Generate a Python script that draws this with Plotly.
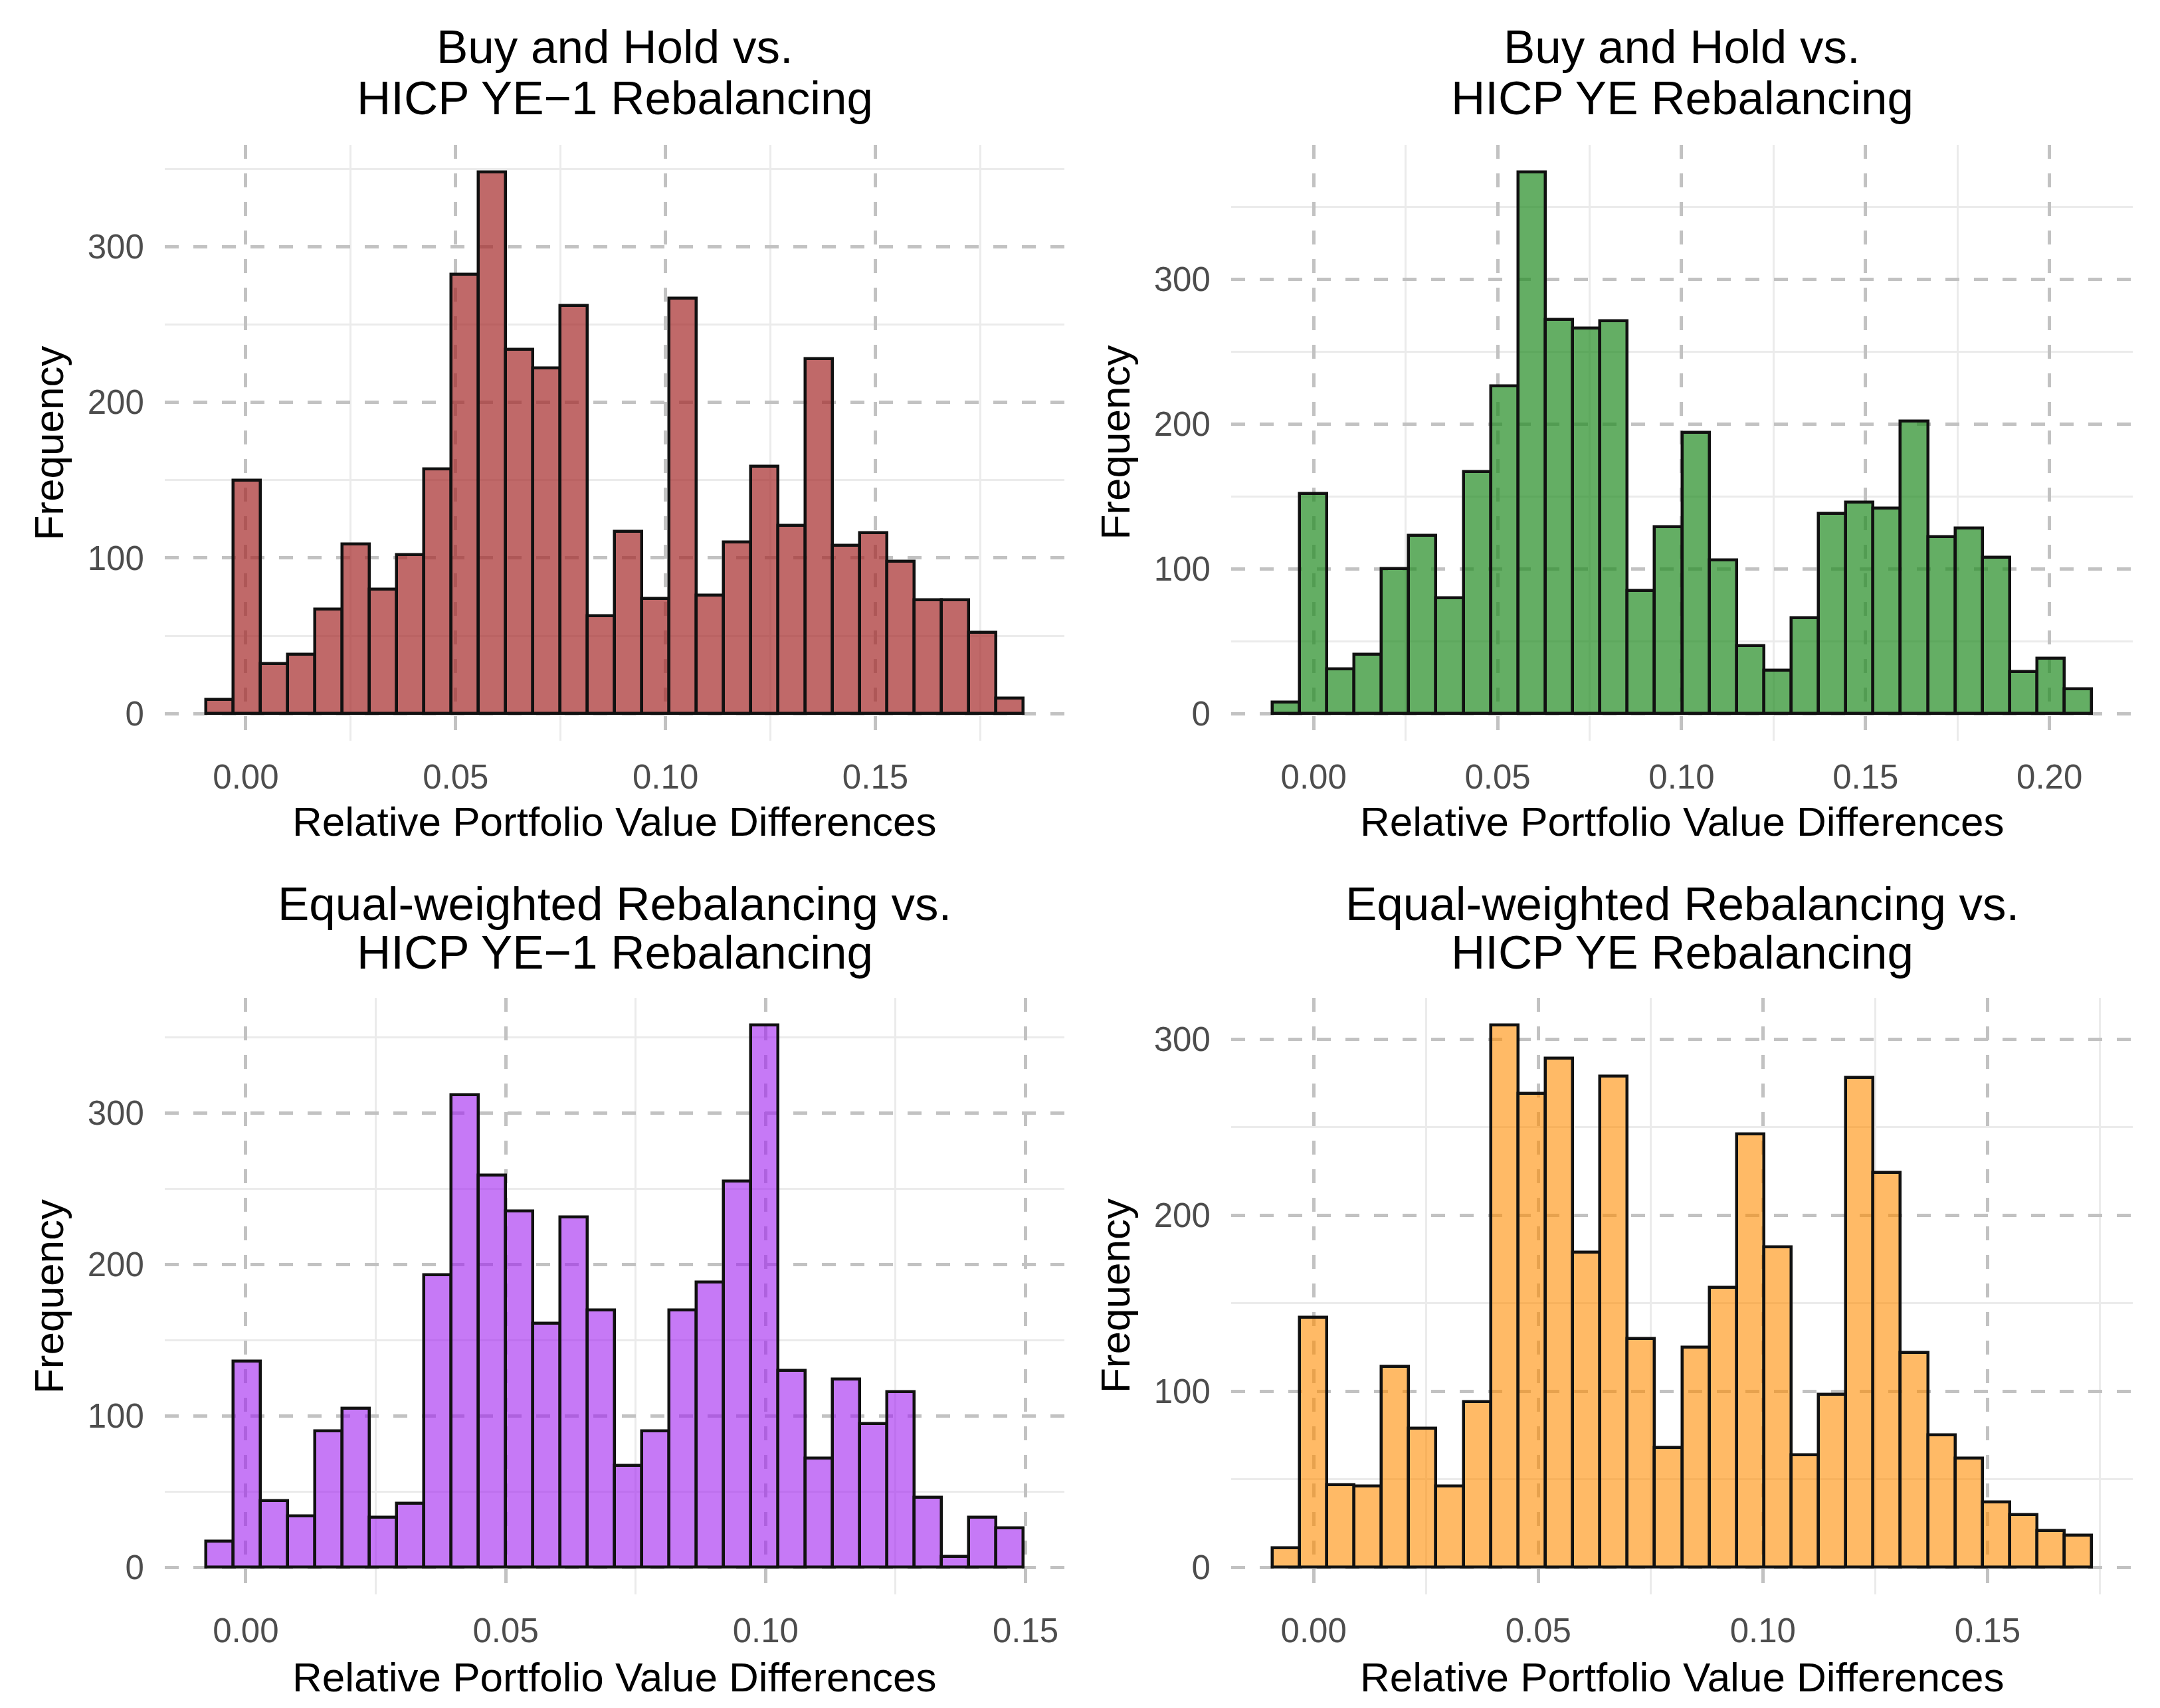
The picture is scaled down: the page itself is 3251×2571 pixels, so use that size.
import plotly.graph_objects as go

# ---------------- data ----------------
titles = [
    ["Buy and Hold vs.", "HICP YE\u22121 Rebalancing"],
    ["Buy and Hold vs.", "HICP YE Rebalancing"],
    ["Equal-weighted Rebalancing vs.", "HICP YE\u22121 Rebalancing"],
    ["Equal-weighted Rebalancing vs.", "HICP YE Rebalancing"],
]
x_title = "Relative Portfolio Value Differences"
y_title = "Frequency"

# bin edges (first left edge, last right edge) for each panel, 30 bins each
edges_bh_ye1 = [-0.00956, 0.1853]
edges_bh_ye = [-0.01128, 0.2115]
edges_ew_ye1 = [-0.00771, 0.1496]
edges_ew_ye = [-0.00924, 0.1732]

counts_bh_ye1 = [9, 150, 32, 38, 67, 109, 80, 102, 157, 282, 348, 234, 222, 262, 63,
                 117, 74, 267, 76, 110, 159, 121, 228, 108, 116, 98, 73, 73, 52, 10]
counts_bh_ye = [8, 152, 31, 41, 100, 123, 80, 167, 226, 374, 272, 266, 271, 85, 129,
                194, 106, 47, 30, 66, 138, 146, 142, 202, 122, 128, 108, 29, 38, 17]
counts_ew_ye1 = [17, 136, 44, 34, 90, 105, 33, 42, 193, 312, 259, 235, 161, 231, 170,
                 67, 90, 170, 188, 255, 358, 130, 72, 124, 95, 116, 46, 7, 33, 26]
counts_ew_ye = [11, 142, 47, 46, 114, 79, 46, 94, 308, 269, 289, 179, 279, 130, 68,
                125, 159, 246, 182, 64, 98, 278, 224, 122, 75, 62, 37, 30, 21, 18]

x_ticks = [[0.0, 0.05, 0.10, 0.15],
           [0.0, 0.05, 0.10, 0.15, 0.20],
           [0.0, 0.05, 0.10, 0.15],
           [0.0, 0.05, 0.10, 0.15]]
y_ticks = [0, 100, 200, 300]

fills = ["rgba(165,42,42,0.7)", "rgba(34,139,34,0.7)",
         "rgba(160,32,240,0.6)", "rgba(255,140,0,0.6)"]

panels = [
    (edges_bh_ye1, counts_bh_ye1),
    (edges_bh_ye, counts_bh_ye),
    (edges_ew_ye1, counts_ew_ye1),
    (edges_ew_ye, counts_ew_ye),
]

# ---------------- layout ----------------
W, H = 3251, 2571
x_domains = [[240 / W, 1594 / W], [1845 / W, 3202 / W]]
y_px = [[210, 1107], [1494, 2392]]  # top, bottom in pixels
y_domains = [[1 - b / H, 1 - t / H] for t, b in y_px]
title_px = [[63, 140], [1352, 1425]]
xtitle_px = [1228, 2516]

FONT = "Liberation Sans, Arial, Helvetica, sans-serif"
fig = go.Figure()
annotations = []

for i, ((lo, hi), counts) in enumerate(panels):
    n = len(counts)
    w = (hi - lo) / n
    centers = [lo + w * (k + 0.5) for k in range(n)]
    ax = "" if i == 0 else str(i + 1)
    fig.add_trace(go.Bar(
        x=centers, y=counts, width=w,
        marker=dict(color=fills[i], line=dict(color="#111111", width=4.5)),
        xaxis="x" + ax, yaxis="y" + ax, showlegend=False,
    ))
    col, row = i % 2, i // 2
    xpad = 0.05 * (hi - lo)
    ymax = max(counts)
    common_grid = dict(
        showgrid=True, gridcolor="#C2C2C2", gridwidth=4.5, griddash="21px,22px",
        zeroline=False, showline=False,
        ticks="outside", tickcolor="rgba(0,0,0,0)",
        tickfont=dict(family=FONT, size=51, color="#4D4D4D"),
    )
    minor = dict(showgrid=True, gridcolor="#EBEBEB", gridwidth=2.5, griddash="solid")
    fig.update_layout(**{
        "xaxis" + ax: dict(
            domain=x_domains[col], anchor="y" + ax,
            range=[lo - xpad, hi + xpad],
            tickvals=x_ticks[i], ticktext=[f"{v:.2f}" for v in x_ticks[i]],
            ticklen=10,
            minor=dict(tickvals=[v + 0.025 for v in x_ticks[i]], **minor),
            **common_grid,
        ),
        "yaxis" + ax: dict(
            domain=y_domains[row], anchor="x" + ax,
            range=[-0.05 * ymax, 1.05 * ymax],
            tickvals=y_ticks, ticktext=[str(v) for v in y_ticks],
            ticklen=20,
            minor=dict(tickvals=[50, 150, 250, 350], **minor),
            **common_grid,
        ),
    })
    xc = sum(x_domains[col]) / 2
    for line, ypix in zip(titles[i], title_px[row]):
        annotations.append(dict(
            text=line, x=xc, y=1 - ypix / H, xref="paper", yref="paper",
            xanchor="center", yanchor="middle", showarrow=False,
            font=dict(family=FONT, size=71, color="#000000"),
        ))
    annotations.append(dict(
        text=x_title, x=xc, y=1 - xtitle_px[row] / H, xref="paper", yref="paper",
        xanchor="center", yanchor="middle", showarrow=False,
        font=dict(family=FONT, size=62, color="#000000"),
    ))
    annotations.append(dict(
        text=y_title, x=x_domains[col][0] - 175 / W, y=sum(y_domains[row]) / 2,
        xref="paper", yref="paper", xanchor="center", yanchor="middle",
        showarrow=False, textangle=-90,
        font=dict(family=FONT, size=62, color="#000000"),
    ))

fig.update_layout(
    width=W, height=H, margin=dict(l=0, r=0, t=0, b=0),
    paper_bgcolor="white", plot_bgcolor="white",
    bargap=0, annotations=annotations,
    font=dict(family=FONT),
)

fig.write_html("out.html")
